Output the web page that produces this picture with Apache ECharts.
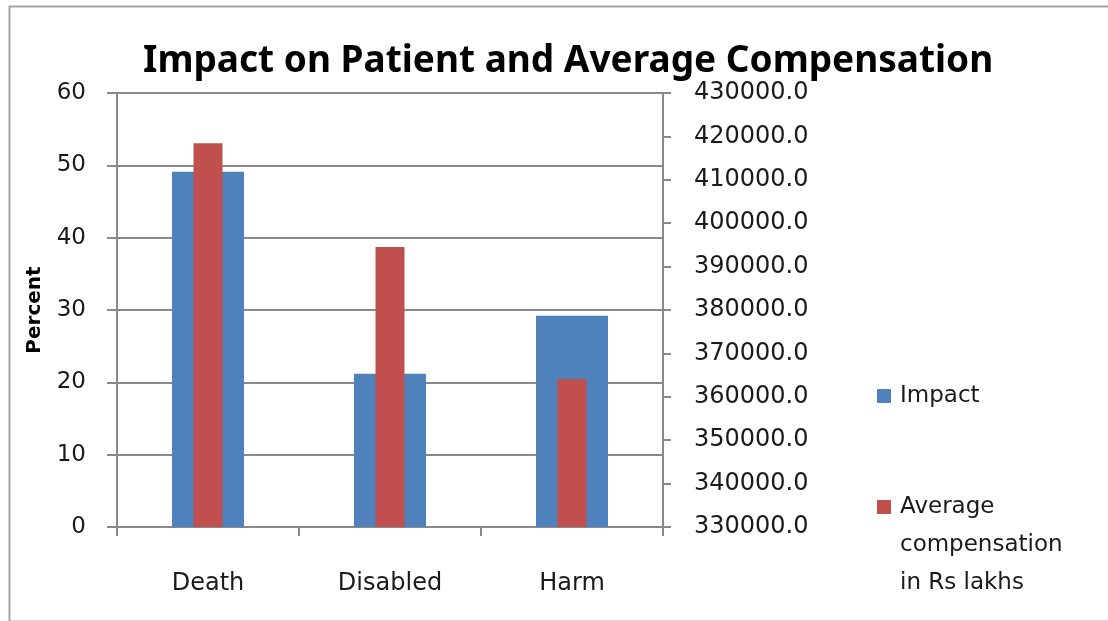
<!DOCTYPE html>
<html>
<head>
<meta charset="utf-8">
<script src="https://cdn.jsdelivr.net/npm/echarts@6/dist/echarts.min.js"></script>
<style>html,body{margin:0;padding:0;background:#fff}#c{width:1108px;height:621px}</style>
</head>
<body>
<div id="c"></div>
<script>
var categories = ["Death", "Disabled", "Harm"];
var impact = [49.1, 21.2, 29.2];
var compensation = [418400, 394500, 364100];
var seriesNames = ["Impact", "Average compensation in Rs lakhs"];
var titleText = "Impact on Patient and Average Compensation";
var leftAxisName = "Percent";

var chart = echarts.init(document.getElementById('c'));
var font = "'DejaVu Sans', sans-serif";
var gray = '#8a8a8a';
var legendText = {fontFamily: font, fontSize: 23, color: '#1a1a1a', lineHeight: 38, padding: [0, 0, 0, 4]};
chart.setOption({
  animation: false,
  backgroundColor: '#fff',
  graphic: [{
    type: 'rect', left: 7, top: 4,
    shape: {width: 1120, height: 615},
    style: {fill: 'none', stroke: '#a6a6a6', lineWidth: 2}
  }],
  title: {
    text: titleText, left: 138, top: 38,
    textStyle: {fontFamily: "'Noto Sans', sans-serif", fontWeight: 'bold', fontSize: 37, color: '#000'}
  },
  legend: [{
    orient: 'vertical', left: 872, top: 372,
    itemWidth: 14, itemHeight: 14, icon: 'rect',
    data: [seriesNames[0]],
    textStyle: legendText
  }, {
    orient: 'vertical', left: 872, top: 407,
    itemWidth: 14, itemHeight: 14, icon: 'rect',
    data: [seriesNames[1]],
    formatter: function () { return '\n\nAverage\ncompensation\nin Rs lakhs'; },
    textStyle: legendText
  }],
  grid: {left: 117, right: 445, top: 93, bottom: 94},
  xAxis: [{
    type: 'category', data: categories,
    axisLine: {lineStyle: {color: gray, width: 2}},
    axisTick: {show: true, length: 9, lineStyle: {color: gray, width: 2}},
    axisLabel: {fontFamily: font, fontSize: 24, color: '#1a1a1a', margin: 45}
  }, {
    type: 'category', data: categories, show: false
  }],
  yAxis: [{
    type: 'value', min: 0, max: 60, interval: 10,
    name: leftAxisName, nameLocation: 'middle', nameGap: 72, nameRotate: 90,
    nameTextStyle: {fontFamily: font, fontSize: 20, fontWeight: 'bold', color: '#000'},
    axisLine: {show: true, lineStyle: {color: gray, width: 2}},
    axisTick: {show: true, length: 10, lineStyle: {color: gray, width: 2}},
    axisLabel: {fontFamily: font, fontSize: 23, color: '#1a1a1a', margin: 31},
    splitLine: {lineStyle: {color: gray, width: 2}}
  }, {
    type: 'value', min: 330000, max: 430000, interval: 10000, position: 'right',
    axisLine: {show: true, lineStyle: {color: gray, width: 2}},
    axisTick: {show: true, length: 8, inside: false, lineStyle: {color: gray, width: 2}},
    axisLabel: {fontFamily: font, fontSize: 24, color: '#1a1a1a', margin: 31,
      formatter: function (v) { return v.toFixed(1); }},
    splitLine: {show: false}
  }],
  series: [{
    name: seriesNames[0], type: 'bar', data: impact,
    xAxisIndex: 0, yAxisIndex: 0, barWidth: 72,
    itemStyle: {color: '#4f81bd'}
  }, {
    name: seriesNames[1], type: 'bar', data: compensation,
    xAxisIndex: 1, yAxisIndex: 1, barWidth: 29,
    itemStyle: {color: '#c0504d'}, z: 3
  }]
});
</script>
</body>
</html>
